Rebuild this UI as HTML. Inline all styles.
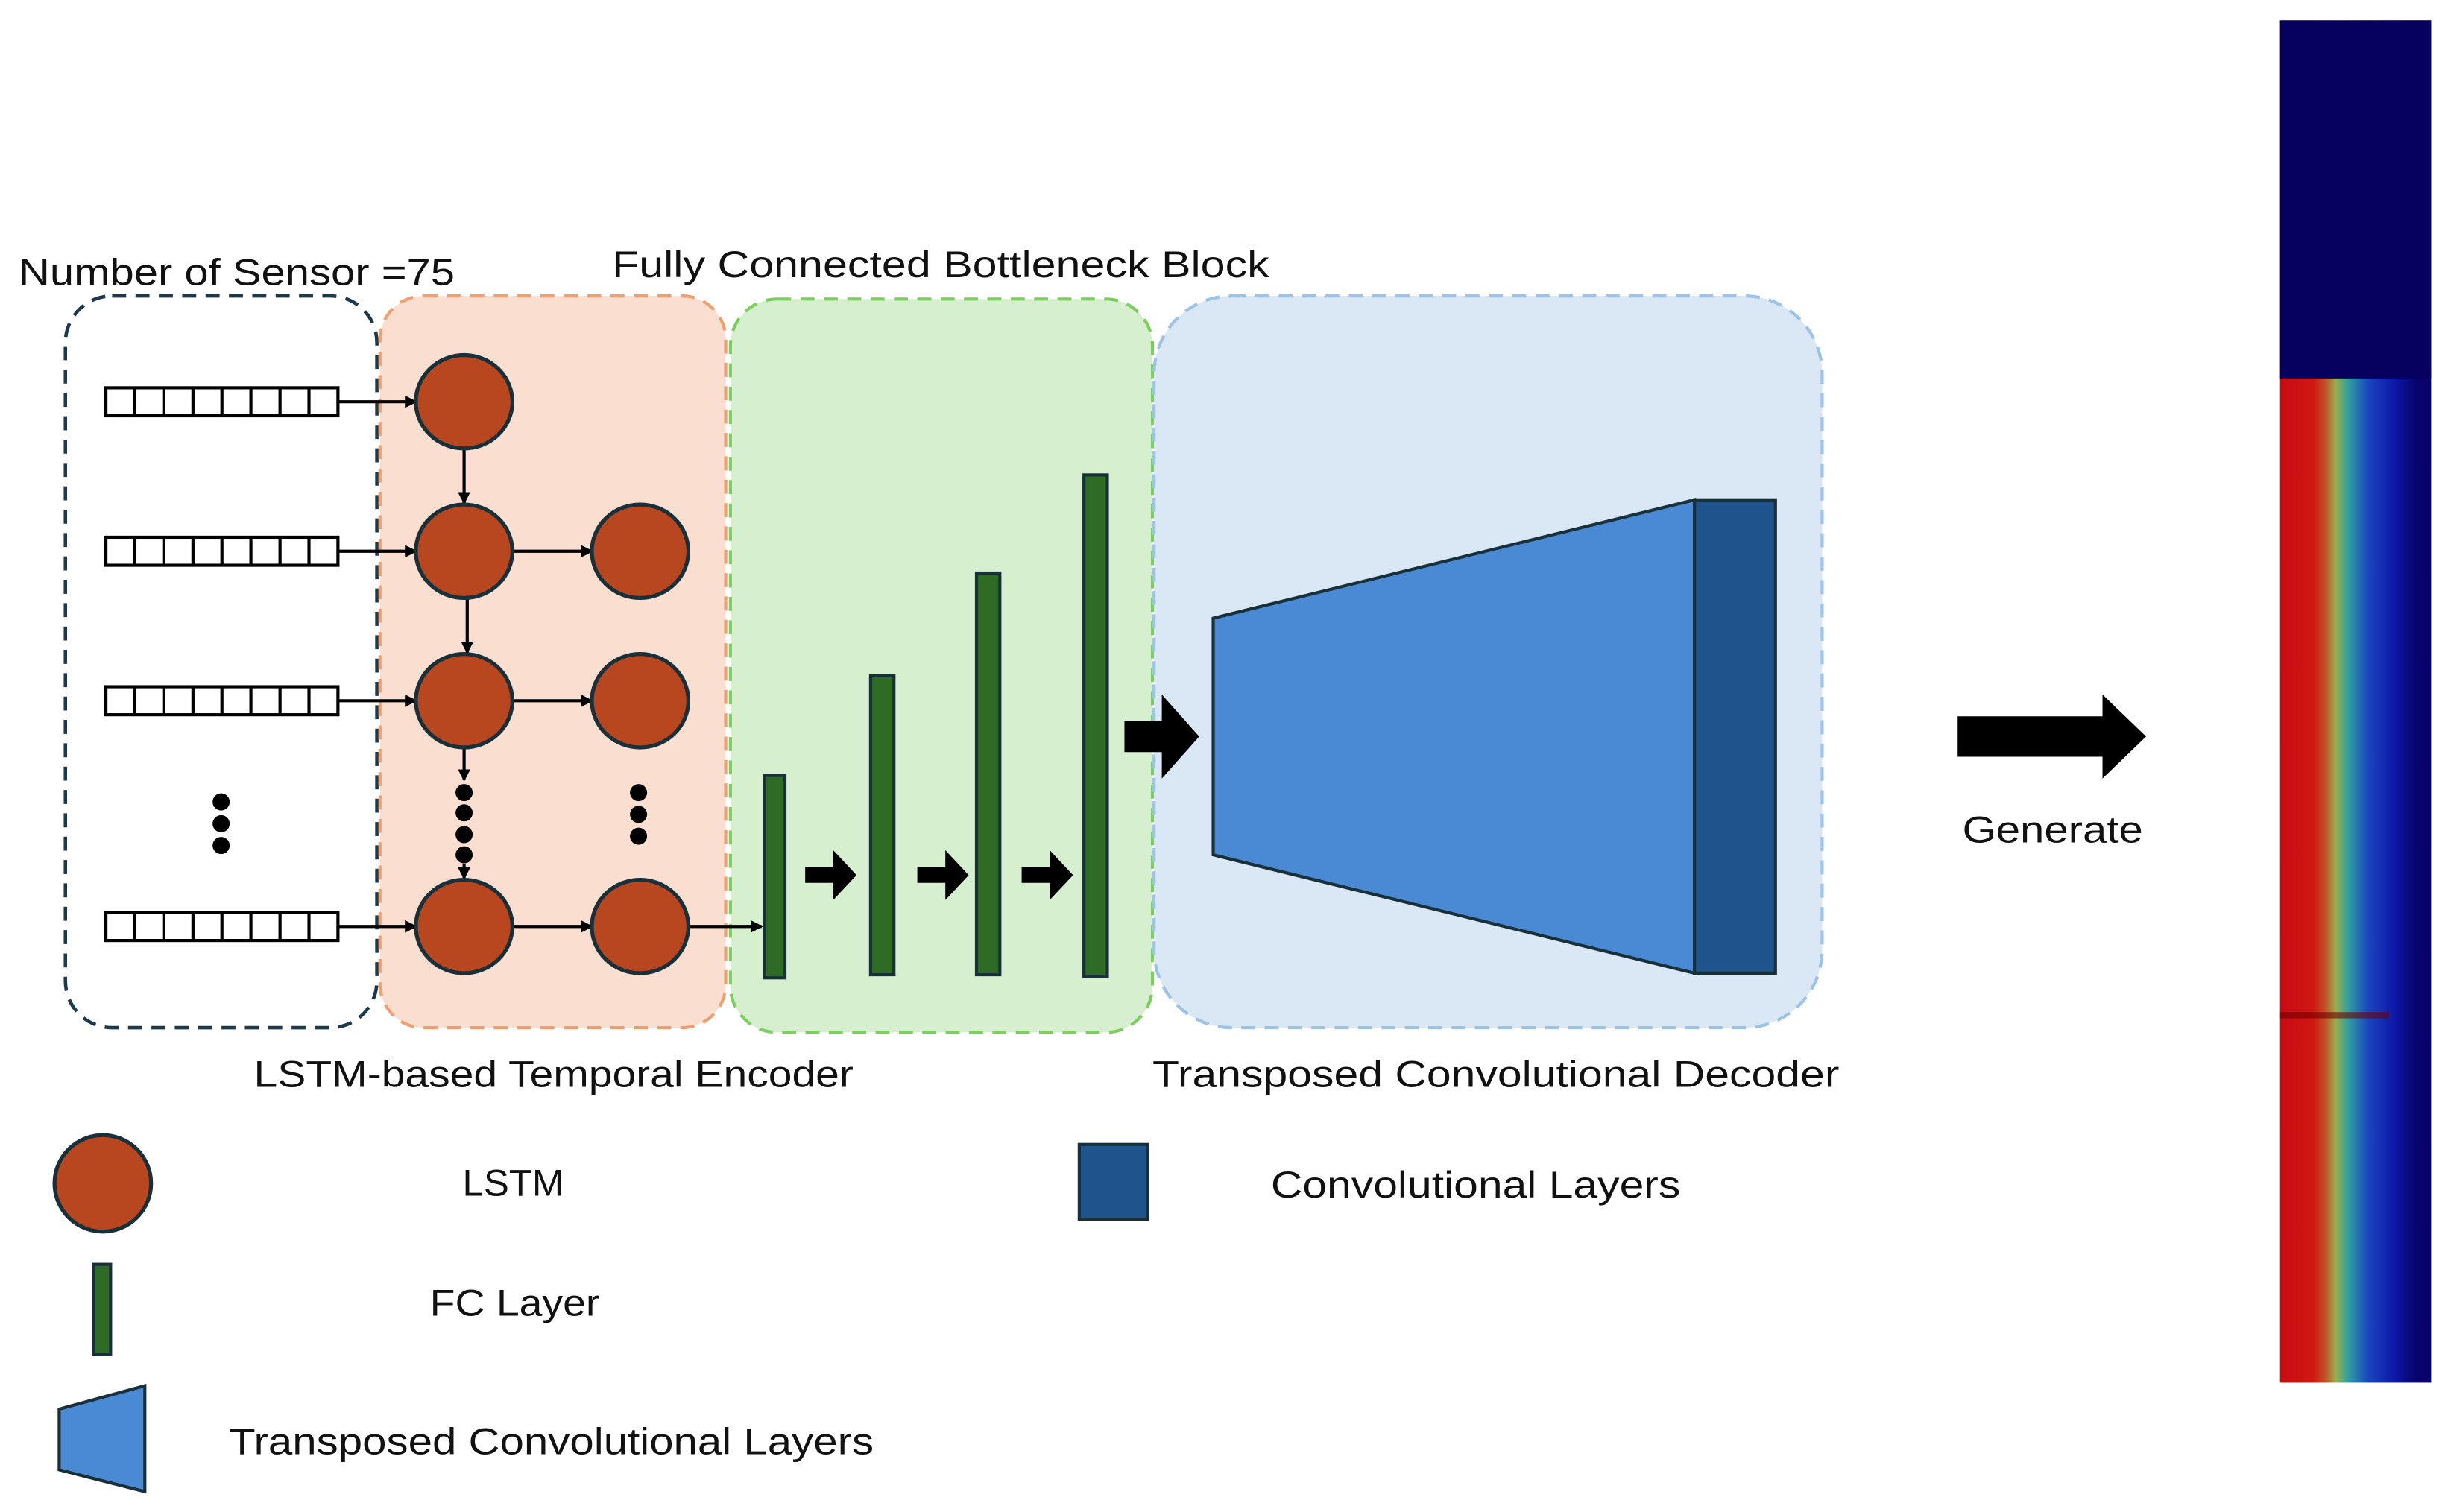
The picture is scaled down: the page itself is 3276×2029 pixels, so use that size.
<!DOCTYPE html>
<html><head><meta charset="utf-8"><style>
html,body{margin:0;padding:0;background:#fff;}
svg{display:block;}
text{font-family:"Liberation Sans",sans-serif;fill:#111;}
</style></head><body>
<svg width="3276" height="2029" viewBox="0 0 1568 971" xmlns="http://www.w3.org/2000/svg">
<defs>
<marker id="ah" markerWidth="8" markerHeight="8" refX="7" refY="4" orient="auto" markerUnits="userSpaceOnUse"><path d="M0,0 L8,4 L0,8 z" fill="#000"/></marker>
<linearGradient id="hm" x1="0" x2="1" y1="0" y2="0">
<stop offset="0" stop-color="#c80a12"/>
<stop offset="0.22" stop-color="#d01812"/>
<stop offset="0.3" stop-color="#c05028"/>
<stop offset="0.37" stop-color="#98b050"/>
<stop offset="0.45" stop-color="#30a0a0"/>
<stop offset="0.58" stop-color="#1a48c0"/>
<stop offset="0.75" stop-color="#0e18a8"/>
<stop offset="0.9" stop-color="#08046e"/>
<stop offset="1" stop-color="#07006a"/>
</linearGradient>
</defs>
<rect x="42" y="190" width="200" height="470" rx="30" fill="none" stroke="#1d3a4a" stroke-width="2.2" stroke-dasharray="9,6"/>
<rect x="244" y="190" width="222" height="470" rx="28" fill="#fadfd0" stroke="#f0a070" stroke-width="2" stroke-dasharray="9,6"/>
<rect x="469" y="192" width="271" height="471" rx="30" fill="#d5efcf" stroke="#7ccf5e" stroke-width="2" stroke-dasharray="9,6"/>
<rect x="741" y="190" width="429" height="470" rx="50" fill="#dae7f5" stroke="#9dc3e6" stroke-width="2" stroke-dasharray="9,6"/>
<text x="12" y="183" font-size="24" textLength="280" lengthAdjust="spacingAndGlyphs">Number of Sensor =75</text>
<text x="393" y="178" font-size="24" textLength="422" lengthAdjust="spacingAndGlyphs">Fully Connected Bottleneck Block</text>
<text x="163" y="698" font-size="24" textLength="385" lengthAdjust="spacingAndGlyphs">LSTM-based Temporal Encoder</text>
<text x="740" y="698" font-size="24" textLength="441" lengthAdjust="spacingAndGlyphs">Transposed Convolutional Decoder</text>
<g fill="#fff" stroke="#000" stroke-width="2">
<g id="arr"><rect x="68" y="249" width="149" height="18"/>
<path d="M86.6,249v18M105.2,249v18M123.9,249v18M142.5,249v18M161.1,249v18M179.8,249v18M198.4,249v18"/></g>
<use href="#arr" y="96"/><use href="#arr" y="192"/><use href="#arr" y="337"/>
</g>
<g stroke="#000" stroke-width="2" marker-end="url(#ah)">
<line x1="217" y1="258" x2="267" y2="258"/>
<line x1="217" y1="354" x2="267" y2="354"/>
<line x1="217" y1="450" x2="267" y2="450"/>
<line x1="217" y1="595" x2="267" y2="595"/>
<line x1="329" y1="354" x2="380" y2="354"/>
<line x1="329" y1="450" x2="380" y2="450"/>
<line x1="329" y1="595" x2="380" y2="595"/>
<line x1="442" y1="595" x2="489" y2="595"/>
<line x1="298" y1="288" x2="298" y2="323"/>
<line x1="300" y1="384" x2="300" y2="419"/>
<line x1="298" y1="481" x2="298" y2="501"/>
<line x1="298" y1="555" x2="298" y2="564"/>
</g>
<g fill="#b8461e" stroke="#17303a" stroke-width="2.5">
<ellipse cx="298" cy="258" rx="31" ry="30"/>
<ellipse cx="298" cy="354" rx="31" ry="30"/>
<ellipse cx="298" cy="450" rx="31" ry="30"/>
<ellipse cx="298" cy="595" rx="31" ry="30"/>
<ellipse cx="411" cy="354" rx="31" ry="30"/>
<ellipse cx="411" cy="450" rx="31" ry="30"/>
<ellipse cx="411" cy="595" rx="31" ry="30"/>
<ellipse cx="66" cy="760" rx="31" ry="31"/>
</g>
<g fill="#000">
<circle cx="142" cy="515" r="5.5"/><circle cx="142" cy="529" r="5.5"/><circle cx="142" cy="543" r="5.5"/>
<circle cx="298" cy="509" r="5.5"/><circle cx="298" cy="522" r="5.5"/><circle cx="298" cy="536" r="5.5"/><circle cx="298" cy="549" r="5.5"/>
<circle cx="410" cy="509" r="5.5"/><circle cx="410" cy="523" r="5.5"/><circle cx="410" cy="537" r="5.5"/>
</g>
<g fill="#2e6b25" stroke="#17303a" stroke-width="2">
<rect x="491" y="498" width="13" height="130"/>
<rect x="559" y="434" width="15" height="192"/>
<rect x="627" y="368" width="15" height="258"/>
<rect x="696" y="305" width="15" height="322"/>
<rect x="60" y="812" width="11" height="58"/>
</g>
<g fill="#000">
<path d="M517,557h18v-11l15,16l-15,16v-11h-18z"/>
<path d="M589,557h18v-11l15,16l-15,16v-11h-18z"/>
<path d="M656,557h18v-11l15,16l-15,16v-11h-18z"/>
<path d="M722,463h24v-17l24,27l-24,27v-17h-24z"/>
<path d="M1257,460h93v-14l28,27l-28,27v-14h-93z"/>
</g>
<polygon points="779,397 1088,321 1088,625 779,549" fill="#4a8ad4" stroke="#17303a" stroke-width="2"/>
<rect x="1088" y="321" width="52" height="304" fill="#1f538c" stroke="#17303a" stroke-width="2"/>
<text x="1260" y="541" font-size="24" textLength="116" lengthAdjust="spacingAndGlyphs">Generate</text>
<text x="297" y="768" font-size="24" textLength="65" lengthAdjust="spacingAndGlyphs">LSTM</text>
<rect x="693" y="735" width="44" height="48" fill="#1f538c" stroke="#17303a" stroke-width="2"/>
<text x="816" y="769" font-size="24" textLength="263" lengthAdjust="spacingAndGlyphs">Convolutional Layers</text>
<text x="276" y="845" font-size="24" textLength="109" lengthAdjust="spacingAndGlyphs">FC Layer</text>
<polygon points="38,905 93,890 93,958 38,944" fill="#4a8ad4" stroke="#17303a" stroke-width="2"/>
<text x="147" y="934" font-size="24" textLength="414" lengthAdjust="spacingAndGlyphs">Transposed Convolutional Layers</text>
<rect x="1464" y="13" width="97" height="875" fill="url(#hm)"/>
<rect x="1464" y="13" width="97" height="230" fill="#06005f"/>
<rect x="1464" y="650" width="70" height="4" fill="#700000" opacity="0.6"/>
</svg>
</body></html>
